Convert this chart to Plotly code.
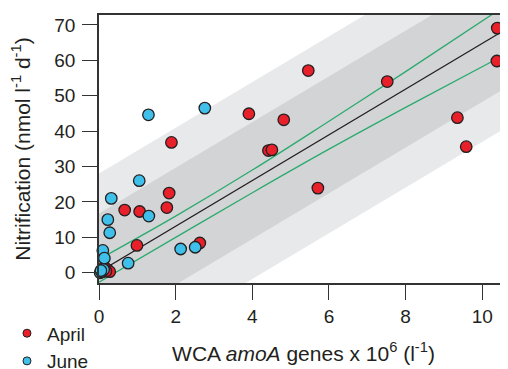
import plotly.graph_objects as go

# ---- data ----
april_x = [10.39, 10.38, 5.46, 7.52, 3.91, 4.82, 9.35, 9.58, 4.42, 4.51, 5.71,
           1.89, 1.83, 1.77, 0.67, 1.06, 0.99, 2.63, 0.14, 0.22, 0.28, 0.18]
april_y = [69.1, 59.8, 57.1, 54.0, 44.9, 43.2, 43.8, 35.6, 34.5, 34.7, 23.9,
           36.8, 22.5, 18.4, 17.7, 17.3, 7.7, 8.4, 1.6, 0.9, 0.3, 0.4]

june_x = [1.29, 2.76, 1.05, 0.32, 1.30, 0.23, 0.28, 0.10, 0.14, 0.76, 2.13, 2.51,
          0.03, 0.08, 0.12, 0.05]
june_y = [44.6, 46.5, 26.0, 21.0, 16.0, 15.0, 11.3, 6.3, 4.1, 2.7, 6.7, 7.2,
          0.0, 0.3, 0.9, 0.6]

# regression line
fit_intercept = 0.2
fit_slope = 6.46
fit_x = [0.0, 10.42]

# confidence curves of the regression
ci_x = [0, 2, 4, 6, 8, 10.4]
ci_upper = [3.8, 16.0, 29.0, 42.8, 56.8, 74.0]
ci_lower = [-2.7, 10.0, 22.6, 34.9, 46.7, 60.5]

# shaded bands (half widths around the regression line)
band_inner = 16.5
band_outer = 27.8
band_x = [-1.0, 12.0]

x_ticks = [0, 2, 4, 6, 8, 10]
y_ticks = [0, 10, 20, 30, 40, 50, 60, 70]

RED = "#E8202A"
BLUE = "#3FC0EB"
GREEN = "#2BAA6E"
INK = "#231F20"
FONT = "Liberation Sans, Arial, sans-serif"


def line_y(x):
    return fit_intercept + fit_slope * x


fig = go.Figure()

for w, col in [(band_outer, "#E8E9EB"), (band_inner, "#D3D4D6")]:
    x0, x1 = band_x
    fig.add_trace(go.Scatter(
        x=[x0, x1, x1, x0, x0],
        y=[line_y(x0) - w, line_y(x1) - w, line_y(x1) + w, line_y(x0) + w, line_y(x0) - w],
        fill="toself", fillcolor=col, mode="lines", line=dict(width=0),
        hoverinfo="skip", showlegend=False))

for ys in (ci_upper, ci_lower):
    fig.add_trace(go.Scatter(x=ci_x, y=ys, mode="lines",
                             line=dict(color=GREEN, width=1.3, shape="spline"),
                             showlegend=False, hoverinfo="skip"))

fig.add_trace(go.Scatter(x=fit_x, y=[line_y(v) for v in fit_x], mode="lines",
                         line=dict(color=INK, width=1.3), showlegend=False))

marker_line = dict(color=INK, width=1.3)
fig.add_trace(go.Scatter(x=april_x, y=april_y, mode="markers", name="April",
                         marker=dict(color=RED, size=11.5, line=marker_line),
                         cliponaxis=False, showlegend=False))
fig.add_trace(go.Scatter(x=june_x, y=june_y, mode="markers", name="June",
                         marker=dict(color=BLUE, size=11.5, line=marker_line),
                         cliponaxis=False, showlegend=False))

# legend entries (smaller symbols, like the reference)
fig.add_trace(go.Scatter(x=[None], y=[None], mode="markers", name="April",
                         marker=dict(color=RED, size=8, line=dict(color=INK, width=1))))
fig.add_trace(go.Scatter(x=[None], y=[None], mode="markers", name="June",
                         marker=dict(color=BLUE, size=8, line=dict(color=INK, width=1))))

axis_common = dict(
    showgrid=False, zeroline=False, showline=True, linecolor="#333333", linewidth=1.5,
    ticks="outside", ticklen=15, tickwidth=1.3, tickcolor="#333333",
    tickfont=dict(family=FONT, size=19, color=INK),
)

# the page body adds an 8px offset, so the figure is 8px smaller than the window
fig.update_layout(
    width=500, height=361,
    margin=dict(l=91, r=0, t=7, b=86, autoexpand=False),
    paper_bgcolor="white", plot_bgcolor="white",
    font=dict(family=FONT, size=19, color=INK),
    xaxis=dict(range=[0, 10.67], tickvals=x_ticks, mirror=True,
               title=dict(text="WCA <i>amoA</i> genes x 10<sup>6</sup> (l<sup>-1</sup>)",
                          font=dict(family=FONT, size=21, color=INK), standoff=21),
               **axis_common),
    yaxis=dict(range=[-2.9, 72.8], tickvals=y_ticks, ticklabelstandoff=3,
               title=dict(text="Nitrification (nmol l<sup>-1</sup> d<sup>-1</sup>)",
                          font=dict(family=FONT, size=21, color=INK), standoff=19),
               **axis_common),
    legend=dict(x=-0.225, y=-0.117, xanchor="left", yanchor="top",
                font=dict(family=FONT, size=19, color=INK),
                bgcolor="rgba(0,0,0,0)", itemwidth=30, tracegroupgap=0),
    showlegend=True,
)

fig.write_html("out.html")
